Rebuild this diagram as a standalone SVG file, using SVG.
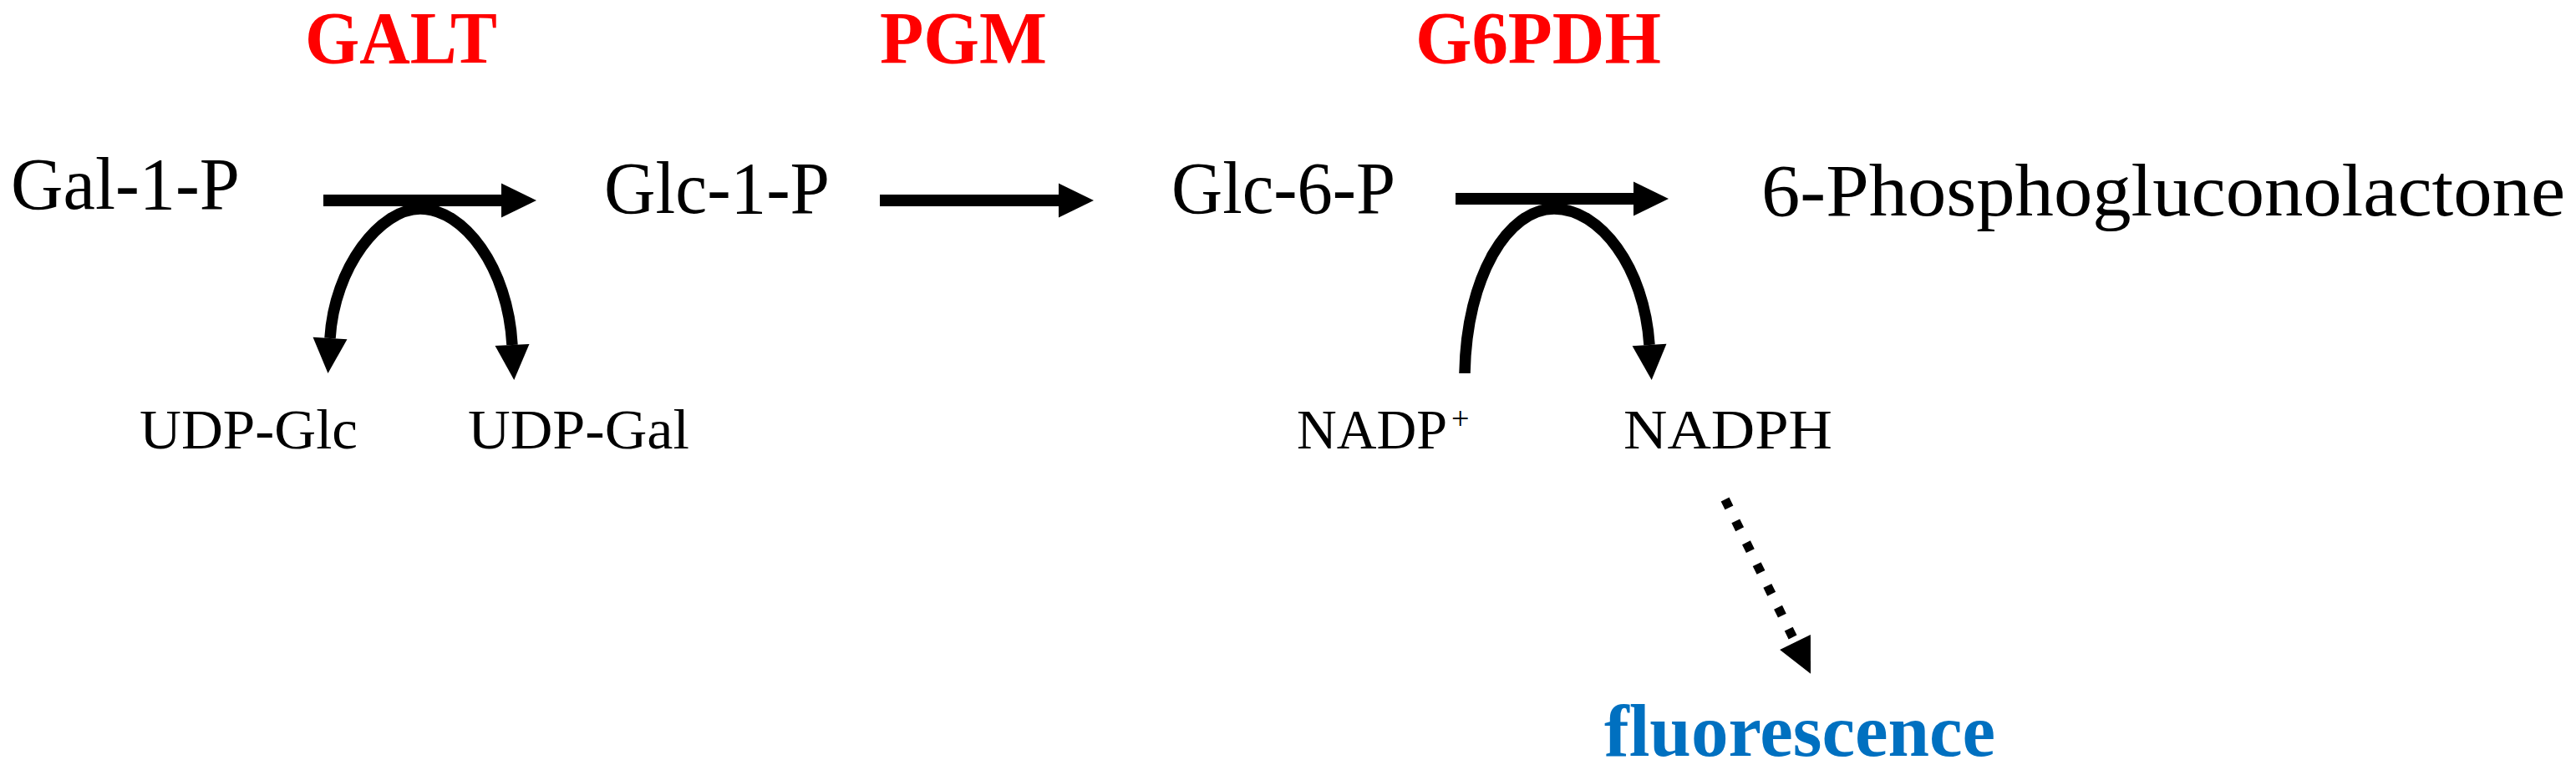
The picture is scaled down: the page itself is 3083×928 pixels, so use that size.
<svg xmlns="http://www.w3.org/2000/svg" width="3083" height="928" viewBox="0 0 3083 928">
<defs>
<style>
.lbl{font-family:"Liberation Serif","Times New Roman",serif;font-size:88px;fill:#000}
.sm{font-family:"Liberation Serif","Times New Roman",serif;font-size:68px;fill:#000}
.enz{font-family:"Liberation Serif","Times New Roman",serif;font-size:88px;font-weight:bold;fill:#FF0000}
.fl{font-family:"Liberation Serif","Times New Roman",serif;font-size:88px;font-weight:bold;fill:#0070C0}
.shaft{fill:none;stroke:#000;stroke-width:14;marker-end:url(#ah)}
.curve{fill:none;stroke:#000;stroke-width:13.5}
.dot{fill:none;stroke:#000;stroke-width:11;stroke-dasharray:11 17.8;marker-end:url(#ah)}
</style>
<marker id="ah" markerUnits="userSpaceOnUse" markerWidth="43" markerHeight="42" refX="0" refY="20.5" orient="auto" overflow="visible">
<path d="M0,0 L42,20.5 L0,41 z" fill="#000"/>
</marker>
</defs>
<rect width="3083" height="928" fill="#fff"/>
<g id="galt"><text class="enz" x="365" y="75" textLength="230" lengthAdjust="spacingAndGlyphs">GALT</text></g>
<g id="pgm"><text class="enz" x="1053" y="75" textLength="200" lengthAdjust="spacingAndGlyphs">PGM</text></g>
<g id="g6pdh"><text class="enz" x="1694" y="75" textLength="294" lengthAdjust="spacingAndGlyphs">G6PDH</text></g>
<g id="gal1p"><text class="lbl" x="13" y="250" textLength="274" lengthAdjust="spacingAndGlyphs">Gal-1-P</text></g>
<g id="glc1p"><text class="lbl" x="723" y="255" textLength="270" lengthAdjust="spacingAndGlyphs">Glc-1-P</text></g>
<g id="glc6p"><text class="lbl" x="1402" y="255" textLength="268" lengthAdjust="spacingAndGlyphs">Glc-6-P</text></g>
<g id="pgl"><text class="lbl" x="2108" y="258" textLength="962" lengthAdjust="spacingAndGlyphs">6-Phosphogluconolactone</text></g>
<g id="udpglc"><text class="sm" x="167" y="537" textLength="261" lengthAdjust="spacingAndGlyphs">UDP-Glc</text></g>
<g id="udpgal"><text class="sm" x="560" y="537" textLength="265" lengthAdjust="spacingAndGlyphs">UDP-Gal</text></g>
<g id="nadp"><text class="sm" x="1552" y="537" textLength="180" lengthAdjust="spacingAndGlyphs">NADP</text><text class="sm" x="1737" y="514" style="font-size:38px">+</text></g>
<g id="nadph"><text class="sm" x="1943" y="537" textLength="250" lengthAdjust="spacingAndGlyphs">NADPH</text></g>
<g id="fluorescence"><text class="fl" x="1920" y="905" textLength="468" lengthAdjust="spacingAndGlyphs">fluorescence</text></g>
<g id="connectors">
<path class="shaft" d="M387 240 H600"/>
<path class="shaft" d="M1053 240 H1267"/>
<path class="shaft" d="M1742 238 H1955"/>
<path class="curve" d="M503 250 C455 250 400 320 395 405" marker-end="url(#ah)"/>
<path class="curve" d="M503 250 C555 250 608 320 613 413" marker-end="url(#ah)"/>
<path class="curve" d="M1860 250 C1805 250 1755 330 1753 447"/>
<path class="curve" d="M1860 250 C1915 250 1968 320 1974 413" marker-end="url(#ah)"/>
<path class="dot" d="M2064.6 598 L2148.5 769"/>
</g>
</svg>
